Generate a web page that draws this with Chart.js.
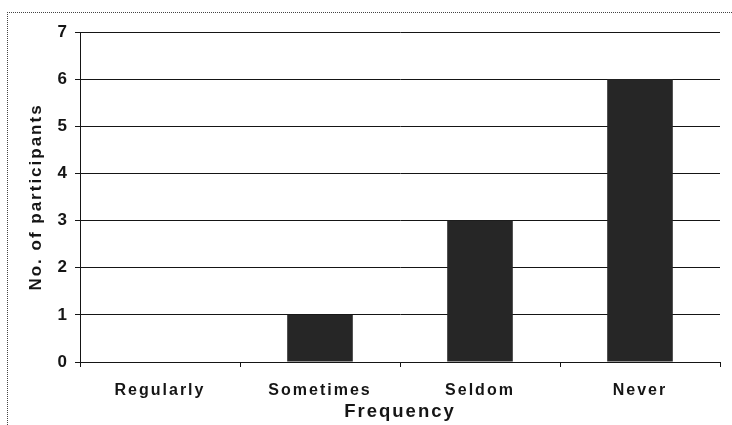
<!DOCTYPE html>
<html>
<head>
<meta charset="utf-8">
<script src="https://cdn.jsdelivr.net/npm/chart.js@4.4.1/dist/chart.umd.min.js"></script>
<style>
  html, body { margin: 0; padding: 0; background: #ffffff; }
  #wrap { position: relative; width: 732px; height: 425px; }
  #frame {
    position: absolute; left: 7px; top: 12px; right: -2px; bottom: -2px;
    border-left: 1px dotted #444; border-top: 1px dotted #444;
    pointer-events: none;
  }
  canvas { display: block; }
</style>
</head>
<body>
<div id="wrap">
  <canvas id="chart" width="732" height="425"></canvas>
  <div id="frame"></div>
</div>
<script>
// Survey answers: how often participants do it
const categories = ['Regularly', 'Sometimes', 'Seldom', 'Never'];
const participants = [0, 1, 3, 6];
const yTicks = [0, 1, 2, 3, 4, 5, 6, 7];

const FONT = "'Liberation Sans', Arial, sans-serif";
const INK = '#151515';

// Wide-set lettering for all axis text
const spacing = {
  id: 'spacing',
  beforeUpdate(chart) { chart.ctx.letterSpacing = '2px'; },
  beforeLayout(chart) { chart.ctx.letterSpacing = '2px'; },
  beforeDraw(chart) { chart.ctx.letterSpacing = '2px'; }
};

new Chart(document.getElementById('chart'), {
  type: 'bar',
  data: {
    labels: categories,
    datasets: [{
      data: participants,
      backgroundColor: '#262626',
      borderWidth: 0,
      barPercentage: 0.41,
      categoryPercentage: 1.0
    }]
  },
  options: {
    responsive: false,
    animation: false,
    devicePixelRatio: 1,
    layout: { padding: { top: 32, right: 12, left: 0, bottom: 0 } },
    plugins: {
      legend: { display: false },
      tooltip: { enabled: false }
    },
    scales: {
      x: {
        offset: true,
        afterFit(s) { s.height = 63; },
        grid: {
          offset: true,
          drawOnChartArea: false,
          drawTicks: true,
          tickLength: 5,
          color: INK
        },
        border: { display: true, color: INK, width: 1 },
        ticks: {
          color: INK,
          padding: 14,
          font: { family: FONT, size: 16, weight: 'bold' }
        },
        title: {
          display: true,
          text: 'Frequency',
          color: INK,
          padding: { top: 0, bottom: 2 },
          font: { family: FONT, size: 18.5, weight: 'bold' }
        }
      },
      y: {
        min: 0,
        max: 7,
        afterFit(s) { s.width = 80; },
        afterBuildTicks(s) { s.ticks = yTicks.map(v => ({ value: v })); },
        grid: {
          drawOnChartArea: true,
          drawTicks: true,
          tickLength: 5,
          color: INK,
          lineWidth: 1
        },
        border: { display: true, color: INK, width: 1 },
        ticks: {
          color: INK,
          padding: 6,
          font: { family: FONT, size: 17, weight: 'bold' }
        },
        title: {
          display: true,
          text: 'No. of participants',
          color: INK,
          padding: { top: 26, bottom: 0 },
          font: { family: FONT, size: 17, weight: 'bold' }
        }
      }
    }
  },
  plugins: [spacing]
});
</script>
</body>
</html>
